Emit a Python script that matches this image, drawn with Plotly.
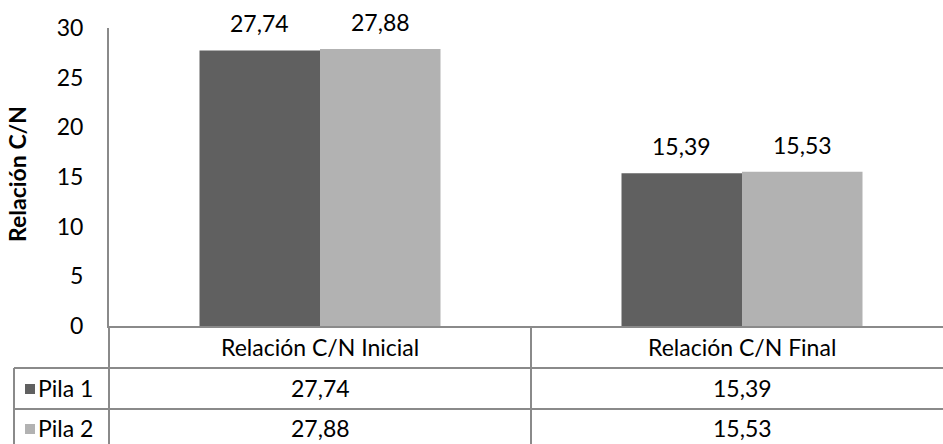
import plotly.graph_objects as go

categories = ["Relación C/N Inicial", "Relación C/N Final"]
series_names = ["Pila 1", "Pila 2"]
pila1 = [27.74, 15.39]
pila2 = [27.88, 15.53]
y_ticks = [0, 5, 10, 15, 20, 25, 30]

colors = ["#606060", "#b2b2b2"]
FONT = "Lato"
FS = 23
LINE = "#8a8a8a"

W, H = 943, 444
L, T, PB = 109, 28, 326
PW = W - L
PH = PB - T
CAT_PX = 422.0


def xp(px):
    return (px - L) / PW


def yp(py):
    return (PB - py) / PH


def fmt(v):
    return f"{v:.2f}".replace(".", ",")


bargap = 1 - 241.0 / CAT_PX
bw = (1 - bargap) / 2

fig = go.Figure()
for name, vals, col in zip(series_names, [pila1, pila2], colors):
    fig.add_trace(go.Bar(x=list(range(len(categories))), y=vals, name=name,
                         marker=dict(color=col, line=dict(width=0))))

annotations = []
# data labels
for si, vals in enumerate([pila1, pila2]):
    off = (-bw / 2) if si == 0 else (bw / 2)
    for ci, v in enumerate(vals):
        annotations.append(dict(x=ci + off, y=v, xref="x", yref="y", text=fmt(v),
                                showarrow=False, yanchor="bottom", yshift=11,
                                font=dict(family=FONT, size=FS, color="black")))

# y axis title
annotations.append(dict(x=xp(17), y=yp(174), xref="paper", yref="paper",
                        text="<b>Relación C/N</b>", textangle=-90, showarrow=False,
                        xanchor="center", yanchor="middle",
                        font=dict(family=FONT, size=FS, color="black")))

# data table text
row_y = [347, 388, 428]
for ci, cat in enumerate(categories):
    annotations.append(dict(x=ci, y=yp(row_y[0]), xref="x", yref="paper", text=cat,
                            showarrow=False, xanchor="center", yanchor="middle",
                            font=dict(family=FONT, size=FS, color="black")))
    for si, vals in enumerate([pila1, pila2]):
        annotations.append(dict(x=ci, y=yp(row_y[si + 1]), xref="x", yref="paper",
                                text=fmt(vals[ci]), showarrow=False,
                                xanchor="center", yanchor="middle",
                                font=dict(family=FONT, size=FS, color="black")))

shapes = []
for si, name in enumerate(series_names):
    annotations.append(dict(x=xp(36), y=yp(row_y[si + 1]), xref="paper", yref="paper",
                            text=name, showarrow=False, xanchor="left", yanchor="middle",
                            font=dict(family=FONT, size=FS, color="black")))
    cy = row_y[si + 1] + 1
    shapes.append(dict(type="rect", xref="paper", yref="paper",
                       x0=xp(25), x1=xp(35), y0=yp(cy - 5), y1=yp(cy + 5),
                       fillcolor=colors[si], line=dict(width=0)))

lw = 2
# table lines
shapes += [
    dict(type="line", xref="paper", yref="paper", x0=0, x1=0, y0=yp(PB), y1=yp(H + 2),
         line=dict(color=LINE, width=lw)),
    dict(type="line", xref="paper", yref="paper", x0=xp(14), x1=xp(14), y0=yp(368), y1=yp(H + 2),
         line=dict(color=LINE, width=lw)),
    dict(type="line", xref="x", yref="paper", x0=0.5, x1=0.5, y0=yp(PB), y1=yp(H + 2),
         line=dict(color=LINE, width=lw)),
    dict(type="line", xref="paper", yref="paper", x0=xp(14), x1=1.01, y0=yp(368), y1=yp(368),
         line=dict(color=LINE, width=lw)),
    dict(type="line", xref="paper", yref="paper", x0=xp(14), x1=1.01, y0=yp(409), y1=yp(409),
         line=dict(color=LINE, width=lw)),
]

fig.update_layout(
    width=W, height=H,
    margin=dict(l=L, r=0, t=T, b=H - PB, pad=0),
    paper_bgcolor="white", plot_bgcolor="white",
    barmode="group", bargap=bargap, bargroupgap=0,
    showlegend=False,
    annotations=annotations, shapes=shapes,
    font=dict(family=FONT, size=FS, color="black"),
    xaxis=dict(range=[-0.5, -0.5 + PW / CAT_PX], showticklabels=False, showgrid=False,
               zeroline=False, showline=True, linecolor=LINE, linewidth=lw, ticks=""),
    yaxis=dict(range=[0, 30], tickvals=y_ticks, showgrid=False, zeroline=False,
               showline=True, linecolor=LINE, linewidth=lw, ticks="",
               ticklabelstandoff=19,
               tickfont=dict(family=FONT, size=FS, color="black")),
)

fig.write_html("out.html")
